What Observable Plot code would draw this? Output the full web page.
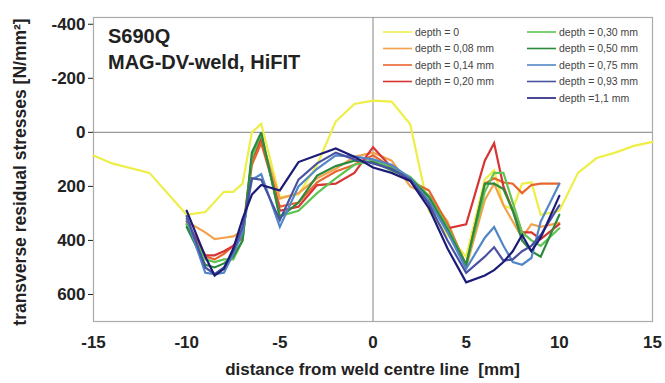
<!DOCTYPE html>
<html>
<head>
<meta charset="utf-8">
<script src="https://cdn.jsdelivr.net/npm/d3@7"></script>
<script src="https://cdn.jsdelivr.net/npm/@observablehq/plot@0.6"></script>
<style>
  html, body { margin: 0; padding: 0; background: #fff; }
  #chart { width: 665px; height: 383px; }
</style>
</head>
<body>
<div id="chart"></div>
<script>
// ---- data ----
const seriesNames = ["depth = 0", "depth = 0,08 mm", "depth = 0,14 mm", "depth = 0,20 mm",
  "depth = 0,30 mm", "depth = 0,50 mm", "depth = 0,75 mm", "depth = 0,93 mm", "depth =1,1 mm"];
const seriesColors = ["#eeee48", "#f2a24c", "#e8662e", "#d83434", "#5ec452", "#2b8a3e", "#5286c6", "#4a52a2", "#1c1c78"];

// surface (depth = 0) x positions
const xSurface = [-15, -14, -12, -10, -9, -8, -7.5, -7, -6.5, -6, -5, -4, -3, -2, -1, 0, 1, 2, 3, 4, 5, 6, 6.5, 7, 7.5, 8, 8.5, 9, 10, 11, 12, 13, 14, 15];
const depth0 = [86, 115, 150, 305, 295, 220, 220, 190, 0, -32, 240, 230, 120, -40, -105, -117, -114, -30, 290, 380, 460, 175, 140, 270, 285, 190, 185, 305, 290, 150, 95, 75, 50, 35];

// depth profiles x positions
const xDepth = [-10, -9, -8.5, -8, -7.5, -7, -6.5, -6, -5, -4, -3, -2, -1, 0, 1, 2, 3, 4, 5, 6, 6.5, 7, 7.5, 8, 8.5, 9, 10];
const depth008 = [330, 370, 395, 390, 385, 365, 100, 25, 245, 225, 170, 135, 90, 75, 105, 200, 235, 330, 500, 250, 190, 270, 330, 390, 340, 350, 335];
const depth014 = [340, 460, 470, 450, 420, 380, 120, 40, 275, 260, 185, 145, 120, 85, 130, 180, 215, 340, 490, 190, 170, 185, 190, 225, 195, 190, 190];
const depth020 = [330, 455, 455, 440, 420, 390, 100, 20, 290, 275, 195, 190, 150, 55, 130, 180, 235, 355, 340, 105, 40, 200, 290, 370, 370, 395, 340];
const depth030 = [340, 470, 480, 470, 470, 400, 95, 5, 310, 290, 225, 170, 120, 105, 130, 165, 235, 350, 490, 220, 150, 150, 260, 370, 400, 420, 355];
const depth050 = [350, 490, 500, 485, 460, 400, 75, 0, 315, 260, 160, 125, 105, 110, 140, 170, 240, 360, 490, 190, 190, 210, 290, 400, 440, 460, 305];
const depth075 = [320, 520, 525, 520, 450, 370, 175, 155, 350, 200, 135, 85, 90, 100, 120, 170, 255, 370, 505, 390, 350, 420, 480, 490, 465, 330, 190];
const depth093 = [310, 500, 525, 500, 440, 350, 170, 175, 325, 175, 115, 75, 100, 115, 135, 175, 265, 400, 520, 460, 425, 475, 470, 440, 420, 380, 270];
const depth110 = [290, 460, 530, 505, 430, 320, 230, 195, 215, 110, 85, 60, 90, 130, 150, 180, 280, 430, 555, 530, 510, 480, 440, 380, 440, 390, 235];

const xTicks = [-15, -10, -5, 0, 5, 10, 15];
const yTicks = [-400, -200, 0, 200, 400, 600];

// ---- table ----
const profiles = [depth0, depth008, depth014, depth020, depth030, depth050, depth075, depth093, depth110];
const rows = [];
profiles.forEach((vals, k) => {
  const xs = k === 0 ? xSurface : xDepth;
  vals.forEach((v, i) => rows.push({x: xs[i], y: v, s: seriesNames[k]}));
});

const W = 665, H = 383;
const mL = 93, mR = 13, mT = 17, mB = 62;

const chart = Plot.plot({
  width: W,
  height: H,
  marginLeft: mL,
  marginRight: mR,
  marginTop: mT,
  marginBottom: mB,
  style: {fontFamily: "Liberation Sans, Arial, sans-serif", fontSize: "17px", fontWeight: "bold", color: "#222", background: "#fff"},
  x: {domain: [-15, 15], ticks: xTicks, tickSize: 0, tickPadding: 14, tickFormat: d => String(d), label: null},
  y: {domain: [-425, 700], reverse: true, ticks: yTicks, tickSize: 5, tickPadding: 3, tickFormat: d => String(d), label: null},
  color: {domain: seriesNames, range: seriesColors},
  marks: [
    Plot.frame({stroke: "#aaa", strokeWidth: 1.2}),
    Plot.ruleX([0], {stroke: "#999", strokeWidth: 1.2}),
    Plot.ruleY([0], {stroke: "#999", strokeWidth: 1.2}),
    Plot.line(rows, {x: "x", y: "y", z: "s", stroke: "s", strokeWidth: 2.2, strokeLinejoin: "miter", strokeMiterlimit: 3})
  ]
});
document.getElementById("chart").appendChild(chart);

// ---- annotations, titles, legend ----
const svg = d3.select(chart);
const ann = svg.append("g").attr("text-anchor", "start").attr("fill", "#222");
ann.append("text").attr("x", 108).attr("y", 43).attr("font-size", 20).attr("font-weight", "bold").text("S690Q");
ann.append("text").attr("x", 108).attr("y", 69).attr("font-size", 20).attr("font-weight", "bold").text("MAG-DV-weld, HiFIT");

ann.append("text").attr("x", (mL + W - mR) / 2).attr("y", 375).attr("text-anchor", "middle")
  .attr("font-size", 17).attr("font-weight", "bold")
  .style("white-space", "pre")
  .text("distance from weld centre line  [mm]");
ann.append("text").attr("transform", "translate(26,172) rotate(-90)").attr("text-anchor", "middle")
  .attr("font-size", 17.5).attr("font-weight", "bold")
  .text("transverse residual stresses [N/mm²]");

const legendCols = [[0, 1, 2, 3], [4, 5, 6, 7, 8]];
const colX = [383, 527];
legendCols.forEach((col, c) => {
  col.forEach((k, r) => {
    const y = 32 + r * 16.5;
    ann.append("line").attr("x1", colX[c]).attr("x2", colX[c] + 29).attr("y1", y).attr("y2", y)
      .attr("stroke", seriesColors[k]).attr("stroke-width", 1.6);
    ann.append("text").attr("x", colX[c] + 32).attr("y", y + 3.5).attr("font-size", 10.5)
      .attr("text-anchor", "start").attr("font-weight", "normal").attr("fill", "#444").text(seriesNames[k]);
  });
});
</script>
</body>
</html>
